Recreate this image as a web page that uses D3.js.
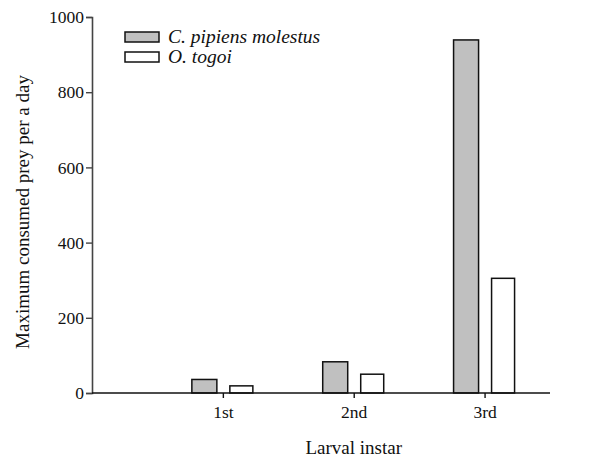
<!DOCTYPE html>
<html>
<head>
<meta charset="utf-8">
<script src="https://cdn.jsdelivr.net/npm/d3@7"></script>
<style>
  body { margin: 0; background: #fff; }
  svg text { font-family: "Times New Roman", Times, "Liberation Serif", "DejaVu Serif", serif; fill: #111; }
</style>
</head>
<body>
<svg id="chart" width="615" height="458"></svg>
<script>
// data
let instars = ["1st", "2nd", "3rd"],
    molestus = [36, 83, 939],
    togoi = [19, 50, 305],
    yTicks = [0, 200, 400, 600, 800, 1000],
    seriesNames = ["C. pipiens molestus", "O. togoi"],
    seriesFill = ["#c0c0c0", "#ffffff"];

let serif = "'Times New Roman', Times, 'Liberation Serif', 'DejaVu Serif', serif";

let svg = d3.select("#chart"),
    margin = {top: 17, right: 65, bottom: 65, left: 92},
    width = + svg.attr("width") - margin.left - margin.right,
    height = + svg.attr("height") - margin.top - margin.bottom,
    g = svg.append("g").attr("transform", "translate(" + margin.left + "," + margin.top + ")");

// categories sit at 1,2,3 on a 0..3.5 axis
let x = d3.scaleLinear().domain([0, 3.5]).range([0, width]);
let y = d3.scaleLinear().domain([0, 1000]).range([height, 0]);

let barW = 25, gap = 6;

let yAxis = g.append("g")
    .call(d3.axisLeft(y).tickValues(yTicks).tickSize(6).tickPadding(2).tickFormat(d3.format("d")));
yAxis.attr("font-family", serif);
yAxis.select(".domain").attr("stroke", "#444").attr("stroke-width", 1.6);
yAxis.selectAll(".tick line").attr("stroke", "#444").attr("stroke-width", 1.4);
yAxis.selectAll(".tick text").style("font-size", "17.5px").style("font-family", serif).attr("fill", "#111");

// bars
instars.forEach(function(d, i) {
    let cx = x(i + 1);
    g.append("rect")
        .attr("x", cx - gap - barW)
        .attr("y", y(molestus[i]))
        .attr("width", barW)
        .attr("height", y(0) - y(molestus[i]))
        .attr("fill", seriesFill[0])
        .attr("stroke", "#111")
        .attr("stroke-width", 1.5);
    g.append("rect")
        .attr("x", cx + gap + 1)
        .attr("y", y(togoi[i]))
        .attr("width", barW - 2)
        .attr("height", y(0) - y(togoi[i]))
        .attr("fill", seriesFill[1])
        .attr("stroke", "#111")
        .attr("stroke-width", 1.5);
});

let xAxis = g.append("g")
    .attr("transform", "translate(0," + height + ")")
    .call(d3.axisBottom(x).tickValues([1, 2, 3]).tickSize(5).tickPadding(8)
        .tickFormat(function(d) { return instars[d - 1]; }));
xAxis.attr("font-family", serif);
xAxis.select(".domain").attr("stroke", "#111").attr("stroke-width", 1.6).attr("d", "M0,0H" + width);
xAxis.selectAll(".tick line").attr("stroke", "#111").attr("stroke-width", 1.4);
xAxis.selectAll(".tick text").style("font-size", "17.5px").style("font-family", serif).attr("fill", "#111");

// axis titles
svg.append("text")
    .attr("x", margin.left + x(2))
    .attr("y", 454)
    .attr("text-anchor", "middle")
    .style("font-family", serif)
    .style("font-size", "19px")
    .text("Larval instar");

svg.append("text")
    .attr("transform", "translate(29,212) rotate(-90)")
    .attr("text-anchor", "middle")
    .style("font-family", serif)
    .style("font-size", "19px")
    .text("Maximum consumed prey per a day");

// legend
let legend = svg.append("g").attr("transform", "translate(125,32)");
seriesNames.forEach(function(name, i) {
    legend.append("rect")
        .attr("x", 0).attr("y", i * 20)
        .attr("width", 34).attr("height", 10)
        .attr("fill", seriesFill[i])
        .attr("stroke", "#111")
        .attr("stroke-width", 1.5);
    legend.append("text")
        .attr("x", 43).attr("y", i * 20 + 11)
        .style("font-family", serif)
        .style("font-size", "19.5px")
        .style("font-style", "italic")
        .text(name);
});
</script>
</body>
</html>
